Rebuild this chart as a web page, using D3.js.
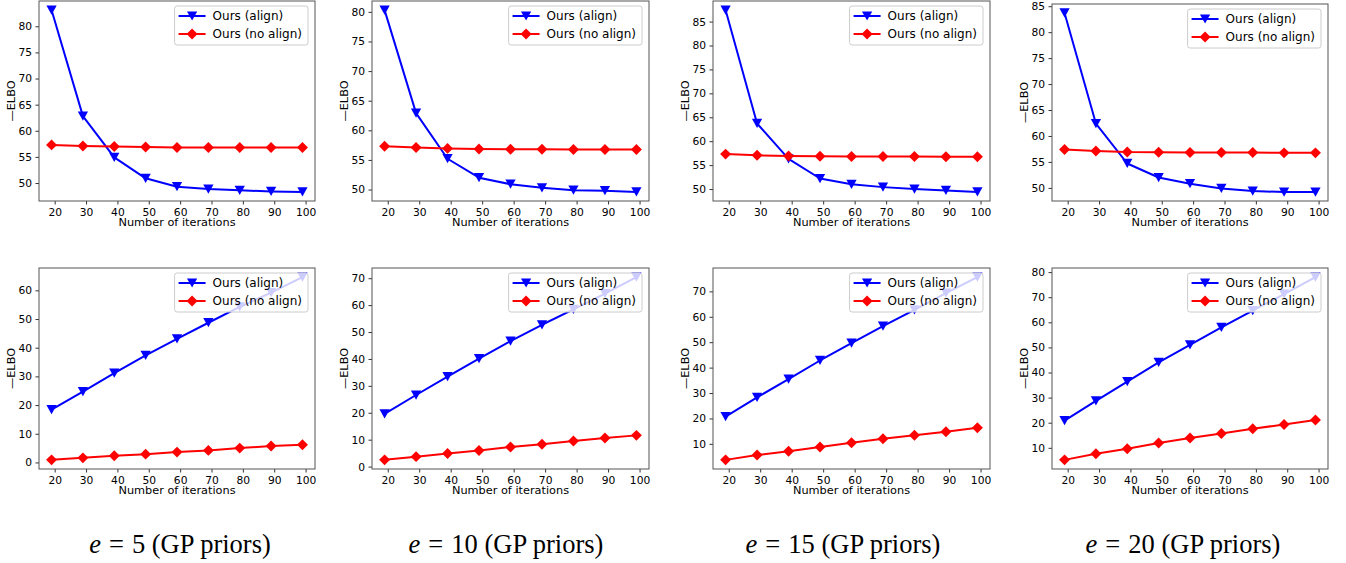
<!DOCTYPE html>
<html>
<head>
<meta charset="utf-8">
<script src="https://cdn.jsdelivr.net/npm/d3@7"></script>
<style>
  html, body { margin: 0; padding: 0; background: #fff; }
  svg { display: block; }
  .tick text { font-family: "DejaVu Sans", sans-serif; font-size: 10.7px; fill: #000; }
  .tick line { stroke: #333; }
  .domain { display: none; }
</style>
</head>
<body>
<svg id="chart" width="1346" height="563"></svg>
<script>
// Iteration counts where each run was evaluated, and the tick labels of the x axis
const iterations = [19, 29, 39, 49, 59, 69, 79, 89, 99];
const xTicks = [20, 30, 40, 50, 60, 70, 80, 90, 100];

// Embedding sizes compared in the four columns
const embedSizes = [5, 10, 15, 20];

// Top row: -ELBO with and without alignment
const topAlign_e5  = [83.1, 62.8, 54.9, 50.9, 49.3, 48.85, 48.6, 48.4, 48.3];
const topAlign_e10 = [80.3, 62.9, 55.2, 52.0, 50.9, 50.3, 49.9, 49.8, 49.6];
const topAlign_e15 = [87.4, 63.7, 56.3, 52.2, 51.0, 50.4, 50.0, 49.7, 49.4];
const topAlign_e20 = [83.7, 62.4, 54.7, 52.0, 50.8, 49.9, 49.4, 49.2, 49.2];

const topNoAlign_e5  = [57.3, 57.1, 57.0, 56.9, 56.8, 56.8, 56.8, 56.8, 56.8];
const topNoAlign_e10 = [57.3, 57.1, 56.95, 56.85, 56.8, 56.8, 56.75, 56.75, 56.75];
const topNoAlign_e15 = [57.3, 57.05, 56.9, 56.85, 56.8, 56.8, 56.8, 56.75, 56.75];
const topNoAlign_e20 = [57.4, 57.1, 56.9, 56.85, 56.8, 56.8, 56.8, 56.75, 56.75];

// Bottom row: -ELBO with and without alignment
const botAlign_e5  = [18.4, 24.7, 31.1, 37.3, 43.1, 48.7, 54.2, 59.2, 64.6];
const botAlign_e10 = [19.6, 26.6, 33.4, 40.1, 46.6, 52.7, 58.4, 64.3, 70.4];
const botAlign_e15 = [20.7, 28.3, 35.5, 42.8, 49.6, 56.3, 62.7, 69.3, 75.6];
const botAlign_e20 = [20.8, 28.7, 36.4, 44.0, 51.0, 58.0, 64.7, 71.2, 78.0];

const botNoAlign_e5  = [0.9, 1.6, 2.3, 2.9, 3.6, 4.2, 5.0, 5.7, 6.2];
const botNoAlign_e10 = [2.5, 3.7, 4.9, 6.0, 7.3, 8.3, 9.5, 10.6, 11.6];
const botNoAlign_e15 = [3.7, 5.6, 7.1, 8.8, 10.4, 12.0, 13.4, 14.8, 16.3];
const botNoAlign_e20 = [5.2, 7.6, 9.6, 11.9, 13.9, 15.7, 17.6, 19.3, 21.1];

// y tick labels per panel
const topYTicks_e5  = [50, 55, 60, 65, 70, 75, 80];
const topYTicks_e10 = [50, 55, 60, 65, 70, 75, 80];
const topYTicks_e15 = [50, 55, 60, 65, 70, 75, 80, 85];
const topYTicks_e20 = [50, 55, 60, 65, 70, 75, 80, 85];
const botYTicks_e5  = [0, 10, 20, 30, 40, 50, 60];
const botYTicks_e10 = [0, 10, 20, 30, 40, 50, 60, 70];
const botYTicks_e15 = [10, 20, 30, 40, 50, 60, 70];
const botYTicks_e20 = [10, 20, 30, 40, 50, 60, 70, 80];

const seriesNames = ["Ours (align)", "Ours (no align)"];
const xLabel = "Number of iterations";
const yLabel = "\u2014ELBO";
const captionSuffix = "(GP priors)";

// Plot-area boxes of the panels: [left, right, top, bottom]
const colX = [[39, 315], [372, 649], [713, 990], [1052, 1328]];
const topRowY = [[1, 201], [1, 201], [1, 201], [4, 201]];
const botRowY = [268, 469];
const captionX = [180, 506, 843, 1183];
const captionY = 553;

const panels = [
  { align: topAlign_e5,  noAlign: topNoAlign_e5,  yTicks: topYTicks_e5,  col: 0, y: topRowY[0] },
  { align: topAlign_e10, noAlign: topNoAlign_e10, yTicks: topYTicks_e10, col: 1, y: topRowY[1] },
  { align: topAlign_e15, noAlign: topNoAlign_e15, yTicks: topYTicks_e15, col: 2, y: topRowY[2] },
  { align: topAlign_e20, noAlign: topNoAlign_e20, yTicks: topYTicks_e20, col: 3, y: topRowY[3] },
  { align: botAlign_e5,  noAlign: botNoAlign_e5,  yTicks: botYTicks_e5,  col: 0, y: botRowY },
  { align: botAlign_e10, noAlign: botNoAlign_e10, yTicks: botYTicks_e10, col: 1, y: botRowY },
  { align: botAlign_e15, noAlign: botNoAlign_e15, yTicks: botYTicks_e15, col: 2, y: botRowY },
  { align: botAlign_e20, noAlign: botNoAlign_e20, yTicks: botYTicks_e20, col: 3, y: botRowY },
];

// Marker shapes: downward triangle and square diamond
const triangleDown = {
  draw(ctx, size) {
    const w = Math.sqrt(size * 2.2);
    const hw = w / 2, hh = w * 0.45;
    ctx.moveTo(-hw, -hh);
    ctx.lineTo(hw, -hh);
    ctx.lineTo(0, hh);
    ctx.closePath();
  }
};
const diamond = {
  draw(ctx, size) {
    const r = Math.sqrt(size / 2);
    ctx.moveTo(0, -r);
    ctx.lineTo(r, 0);
    ctx.lineTo(0, r);
    ctx.lineTo(-r, 0);
    ctx.closePath();
  }
};
const styles = [
  { color: "#0000ff", symbol: d3.symbol().type(triangleDown).size(48) },
  { color: "#ff0000", symbol: d3.symbol().type(diamond).size(60) },
];

const svg = d3.select("#chart");

// Matplotlib-like autoscale: 5% padding on each side of the data range
function padded(lo, hi) {
  const m = (hi - lo) * 0.05;
  return [lo - m, hi + m];
}

panels.forEach(p => {
  const [x0, x1] = colX[p.col];
  const [y0, y1] = p.y;
  const allY = p.align.concat(p.noAlign);

  const x = d3.scaleLinear()
    .domain(padded(d3.min(iterations), d3.max(iterations)))
    .range([x0, x1]);
  const y = d3.scaleLinear()
    .domain(padded(d3.min(allY), d3.max(allY)))
    .range([y1, y0]);

  const g = svg.append("g");

  // axes
  g.append("g")
    .attr("transform", `translate(0,${y1})`)
    .call(d3.axisBottom(x).tickValues(xTicks).tickSize(3.5).tickPadding(3.5).tickFormat(d3.format("d")));
  g.append("g")
    .attr("transform", `translate(${x0},0)`)
    .call(d3.axisLeft(y).tickValues(p.yTicks).tickSize(3.5).tickPadding(3.5).tickFormat(d3.format("d")));

  // clip to the plot area
  const clipId = `clip-${p.col}-${y0}`;
  svg.append("clipPath").attr("id", clipId)
    .append("rect").attr("x", x0).attr("y", y0).attr("width", x1 - x0).attr("height", y1 - y0);

  const plot = g.append("g").attr("clip-path", `url(#${clipId})`);
  const line = d3.line().x((d, i) => x(iterations[i])).y(d => y(d));

  [p.align, p.noAlign].forEach((vals, si) => {
    const st = styles[si];
    plot.append("path")
      .attr("d", line(vals))
      .attr("fill", "none")
      .attr("stroke", st.color)
      .attr("stroke-width", 2)
      .attr("stroke-linejoin", "round");
    plot.selectAll(null)
      .data(vals)
      .join("path")
      .attr("d", st.symbol())
      .attr("transform", (d, i) => `translate(${x(iterations[i])},${y(d)})`)
      .attr("fill", st.color);
  });

  // frame
  g.append("rect")
    .attr("x", x0).attr("y", y0)
    .attr("width", x1 - x0).attr("height", y1 - y0)
    .attr("fill", "none")
    .attr("stroke", "#555")
    .attr("stroke-width", 1);

  // axis titles
  g.append("text")
    .attr("x", (x0 + x1) / 2)
    .attr("y", y1 + 25)
    .attr("text-anchor", "middle")
    .style("font-family", "DejaVu Sans, sans-serif")
    .style("font-size", "11.3px")
    .text(xLabel);
  g.append("text")
    .attr("transform", `translate(${x0 - 28},${(y0 + y1) / 2}) rotate(-90)`)
    .attr("text-anchor", "middle")
    .attr("dy", "0.35em")
    .style("font-family", "DejaVu Sans, sans-serif")
    .style("font-size", "11.3px")
    .text(yLabel);

  // legend (upper right, translucent white box)
  const leg = g.append("g");
  const box = leg.append("rect");
  const texts = [];
  seriesNames.forEach((name, si) => {
    const st = styles[si];
    const cy = 10 + si * 18;
    leg.append("line")
      .attr("x1", 4).attr("x2", 31).attr("y1", cy).attr("y2", cy)
      .attr("stroke", st.color).attr("stroke-width", 2);
    leg.append("path")
      .attr("d", st.symbol())
      .attr("transform", `translate(17.5,${cy})`)
      .attr("fill", st.color);
    texts.push(leg.append("text")
      .attr("x", 38).attr("y", cy).attr("dy", "0.35em")
      .style("font-family", "DejaVu Sans, sans-serif")
      .style("font-size", "12px")
      .text(name));
  });
  const tw = d3.max(texts, t => t.node().getComputedTextLength());
  const bw = 38 + tw + 6, bh = 39;
  box.attr("x", 0).attr("y", 0).attr("width", bw).attr("height", bh)
    .attr("rx", 2.5).attr("ry", 2.5)
    .attr("fill", "#fff").attr("fill-opacity", 0.8)
    .attr("stroke", "#ccc").attr("stroke-width", 1);
  leg.attr("transform", `translate(${x1 - 7 - bw},${y0 + 5})`);
});

// column captions: math-style "e = n" followed by the prior name
embedSizes.forEach((e, i) => {
  const t = svg.append("text")
    .attr("x", captionX[i])
    .attr("y", captionY)
    .attr("text-anchor", "middle")
    .style("font-family", "Liberation Serif, serif")
    .style("font-size", "26.5px");
  t.append("tspan").style("font-style", "italic").text("e");
  t.append("tspan").attr("dx", 8).text("=");
  t.append("tspan").attr("dx", 8).text(e);
  t.append("tspan").text(` ${captionSuffix}`);
});
</script>
</body>
</html>
